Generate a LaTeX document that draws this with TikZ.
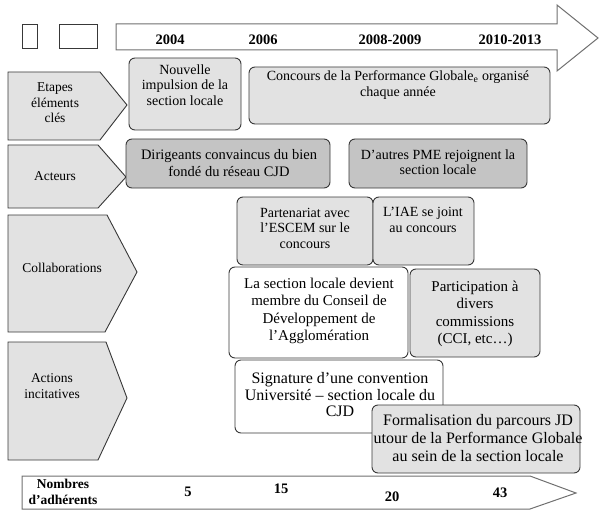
\documentclass[tikz,border=0pt]{standalone}
\usepackage{fontspec}
\setmainfont{Liberation Serif}
\definecolor{fondclair}{HTML}{E2E2E2}
\definecolor{fondfonce}{HTML}{C4C4C4}
\definecolor{trait}{HTML}{383838}
\definecolor{traitgris}{HTML}{707070}

\begin{document}
\begin{tikzpicture}[x=1pt,y=-1pt,
  boite/.style={draw=trait, line width=0.9pt, rounded corners=6pt, fill=fondclair},
  blanche/.style={boite, fill=white},
  foncee/.style={boite, fill=fondfonce},
  fleche/.style={draw=trait, line width=0.9pt, fill=fondclair},
  carre/.style={draw=trait, line width=0.9pt, minimum height=24pt, inner sep=0pt},
  petit/.style={align=center, font=\fontsize{14}{15.5}\selectfont, inner sep=0pt},
  grand/.style={align=center, font=\fontsize{15}{17.5}\selectfont, inner sep=0pt},
  etiquette/.style={align=center, font=\fontsize{13.5}{15.5}\selectfont, inner sep=0pt},
  annee/.style={font=\fontsize{14.5}{16}\selectfont\bfseries, inner sep=0pt}]
\useasboundingbox (0,0) rectangle (601,513);
% frise du haut
\node [carre, minimum width=15pt] (case1) at (29.5,36){};
\node [carre, minimum width=38pt] (case2) at (78,36){};
\draw [draw=traitgris, line width=1pt, fill=white] (116,24) -- (557,24) -- (557,5) -- (598,38) -- (557,71) -- (557,50) -- (116,50) -- cycle;
\node [annee] (a1) at (170,40){2004};
\node [annee] (a2) at (263,40){2006};
\node [annee] (a3) at (390,40){2008-2009};
\node [annee] (a4) at (510,40){2010-2013};
% fleches de gauche
\draw [fleche] (8,72) -- (100,72) -- (127,105) -- (100,140) -- (8,140) -- cycle;
\draw [fleche] (8,145) -- (98,145) -- (126,177) -- (98,208) -- (8,208) -- cycle;
\draw [fleche] (8,215) -- (107,215) -- (137,272) -- (105,332) -- (8,332) -- cycle;
\draw [fleche] (8,342) -- (106,342) -- (127,398) -- (98,460) -- (8,460) -- cycle;
\node [etiquette] (e1) at (55,103){Etapes\\éléments\\clés};
\node [etiquette] (e2) at (55,176){Acteurs};
\node [etiquette] (e3) at (62,268){Collaborations};
\node [etiquette] (e4) at (52,386){Actions\\incitatives};
% etapes
\draw [boite] (129,58) rectangle (241,130);
\node [petit] (nouvelle) at (185,85){Nouvelle\\impulsion de la\\section locale};
\draw [boite] (249,67) rectangle (550,124);
\node [petit] (concours) at (398,85){Concours de la Performance Globale\textsubscript{e} organisé\\chaque année};
% acteurs
\draw [foncee] (126,139) rectangle (330,188);
\node [petit, font=\fontsize{14.5}{17}\selectfont] (dirigeants) at (229,163){Dirigeants convaincus du bien\\fondé du réseau CJD};
\draw [foncee] (349,139) rectangle (527,188);
\node [petit] (pme) at (438,162){D'autres PME rejoignent la\\section locale};
% collaborations
\draw [boite] (237,197) rectangle (373,265);
\node [petit] (escem) at (305,228){Partenariat avec\\l'ESCEM sur le\\concours};
\draw [boite] (373,197) rectangle (474,265);
\node [petit] (iae) at (423,220){L'IAE se joint\\au concours};
\draw [blanche] (229,267) rectangle (408,358);
\node [grand] (conseil) at (319,311){La section locale devient\\membre du Conseil de\\Développement de\\l'Agglomération};
\draw [boite] (410,269) rectangle (540,357);
\node [grand] (cci) at (475,314){Participation à\\divers\\commissions\\(CCI, etc…)};
% actions
\draw [blanche] (235,360) rectangle (443,433);
\node [grand, font=\fontsize{16}{16.5}\selectfont] (convention) at (340,395){Signature d'une convention\\Université -- section locale du\\CJD};
\draw [boite] (372,405) rectangle (580,473);
\node [grand, font=\fontsize{16}{18}\selectfont] (parcours) at (478,438){Formalisation du parcours JD\\utour de la Performance Globale\\au sein de la section locale};
% adherents
\draw [draw=traitgris, line width=1pt, fill=white] (22,476) -- (530,476) -- (576,493) -- (530,509) -- (22,509) -- cycle;
\node [annee, align=center, font=\fontsize{13.5}{16}\selectfont\bfseries] (nb) at (63,492){Nombres\\d'adhérents};
\node [annee] (n1) at (188,492){5};
\node [annee] (n2) at (281,489){15};
\node [annee] (n3) at (392,497){20};
\node [annee] (n4) at (500,493){43};
\end{tikzpicture}
\end{document}
